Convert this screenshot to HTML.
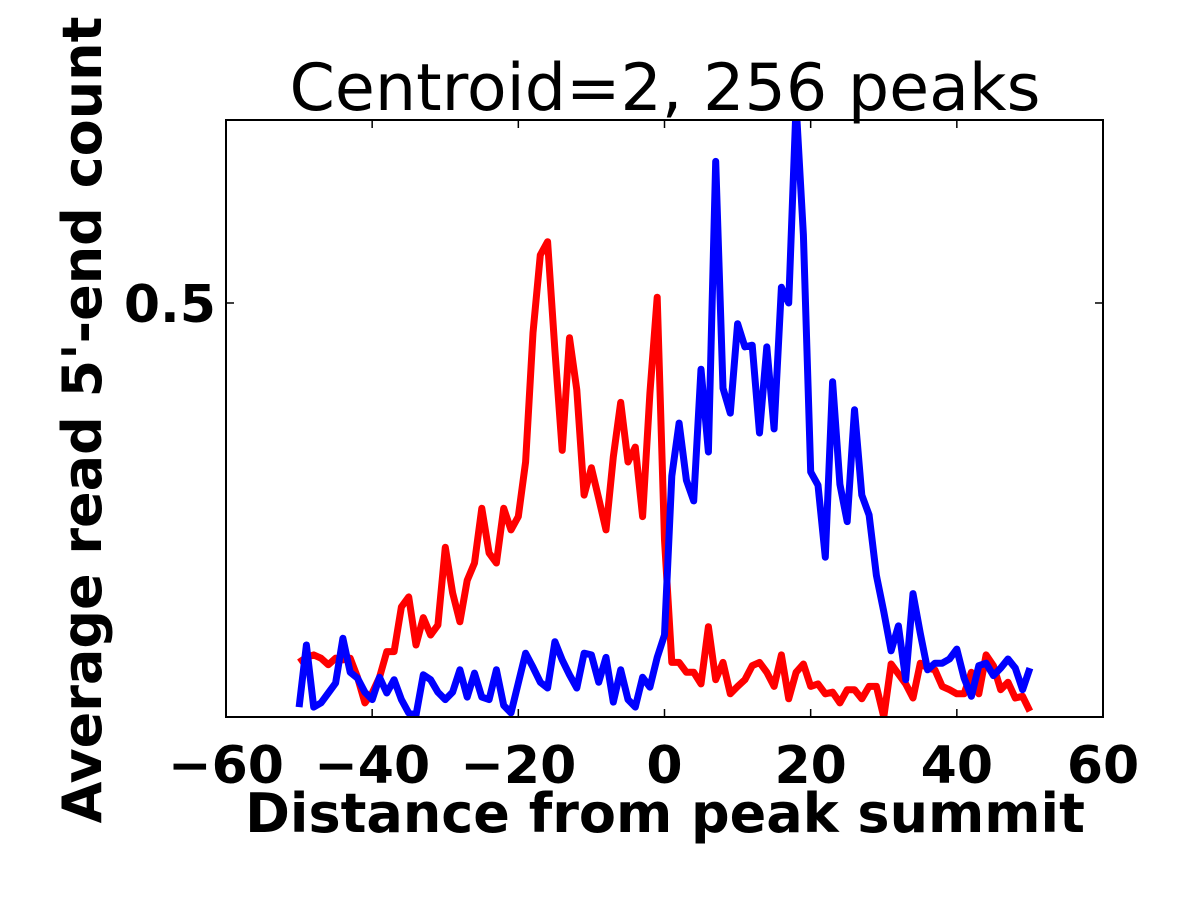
<!DOCTYPE html>
<html><head><meta charset="utf-8"><style>
body{margin:0;background:#fff;}
svg{display:block;font-family:"DejaVu Sans","Liberation Sans",sans-serif;}
</style></head><body>
<svg id="chart" width="1200" height="900">
<defs><clipPath id="clip"><rect x="226" y="120" width="877" height="597"/></clipPath></defs>
<text x="665" y="110" font-size="65" text-anchor="middle">Centroid=2, 256 peaks</text>
<g id="lines" clip-path="url(#clip)"></g>
<rect x="226" y="120" width="877" height="597" fill="none" stroke="#000" stroke-width="2"/>
<g id="ticks"></g>
<text x="665" y="832" font-size="54" font-weight="bold" text-anchor="middle">Distance from peak summit</text>
<text transform="translate(101,420) rotate(-90)" font-size="54" font-weight="bold" text-anchor="middle">Average read 5'-end count</text>
</svg>
<script>
const xTicks=[-60,-40,-20,0,20,40,60];
const yTicks=[0.5];
const positions=[];for(let i=-50;i<=50;i++)positions.push(i);
const redValues=[.066,.072,.075,.071,.063,.071,.069,.071,.048,.017,.029,.048,.079,.079,.133,.145,.087,.120,.099,.111,.205,.150,.115,.165,.186,.252,.198,.186,.252,.226,.242,.308,.464,.558,.574,.443,.322,.458,.395,.268,.301,.264,.226,.314,.380,.308,.326,.242,.391,.507,
.214,.066,.066,.054,.054,.040,.109,.045,.066,.028,.037,.045,.062,.066,.054,.037,.075,.022,.054,.064,.037,.040,.028,.030,.017,.033,.033,.022,.037,.037,.000,.064,.052,.040,.023,.065,.059,.057,.037,.033,.028,.028,.054,.028,.075,.062,.033,.042,.023,.025,.007];
const blueValues=[.012,.087,.012,.017,.029,.041,.095,.054,.047,.030,.021,.048,.029,.045,.021,.005,.002,.051,.045,.030,.021,.030,.057,.024,.053,.024,.021,.057,.014,.005,.041,.077,.060,.042,.035,.091,.069,.051,.035,.077,.075,.042,.072,.018,.057,.021,.012,.048,.036,.072,
.099,.291,.355,.286,.261,.420,.320,.671,.397,.367,.475,.447,.449,.343,.447,.348,.519,.500,.740,.582,.296,.280,.193,.405,.281,.236,.371,.268,.244,.171,.127,.080,.110,.045,.149,.101,.057,.065,.065,.070,.082,.047,.025,.062,.065,.050,.059,.070,.059,.033,.059];
const X0=226,X1=1103,Y0=717,Y1=120,xMin=-60,xMax=60,yMin=0,yMax=0.721;
const sx=v=>X0+(v-xMin)/(xMax-xMin)*(X1-X0);
const sy=v=>Y0-(v-yMin)/(yMax-yMin)*(Y0-Y1);
const NS="http://www.w3.org/2000/svg";
const lines=document.getElementById('lines');
function drawLine(vals,color,name){
  const p=document.createElementNS(NS,'polyline');
  p.setAttribute('points',vals.map((v,i)=>sx(positions[i]).toFixed(1)+','+sy(v).toFixed(1)).join(' '));
  p.setAttribute('fill','none');p.setAttribute('stroke',color);p.setAttribute('stroke-width','7');p.setAttribute('stroke-linejoin','round');
  
  
  lines.appendChild(p);
}
drawLine(redValues,'#ff0000','red-series-line');
drawLine(blueValues,'#0000ff','blue-series-line');
const tg=document.getElementById('ticks');
function ln(x1,y1,x2,y2){const l=document.createElementNS(NS,'line');l.setAttribute('x1',x1);l.setAttribute('y1',y1);l.setAttribute('x2',x2);l.setAttribute('y2',y2);l.setAttribute('stroke','#000');l.setAttribute('stroke-width','1.5');tg.appendChild(l);return l;}
xTicks.forEach(t=>{const x=sx(t);
  ln(x,Y0,x,Y0-8);ln(x,Y1,x,Y1+8);
  const tx=document.createElementNS(NS,'text');tx.setAttribute('x',x);tx.setAttribute('y',783);tx.setAttribute('font-size','52');tx.setAttribute('font-weight','bold');tx.setAttribute('text-anchor','middle');
  tx.textContent=(t<0?'\u2212':'')+Math.abs(t);
  
  
  tg.appendChild(tx);});
yTicks.forEach(t=>{const y=sy(t);
  ln(X0,y,X0+8,y);ln(X1,y,X1-8,y);
  const tx=document.createElementNS(NS,'text');tx.setAttribute('x',216);tx.setAttribute('y',y+19);tx.setAttribute('font-size','52');tx.setAttribute('font-weight','bold');tx.setAttribute('text-anchor','end');
  tx.textContent=String(t);
  
  
  tg.appendChild(tx);});
</script>
</body></html>
